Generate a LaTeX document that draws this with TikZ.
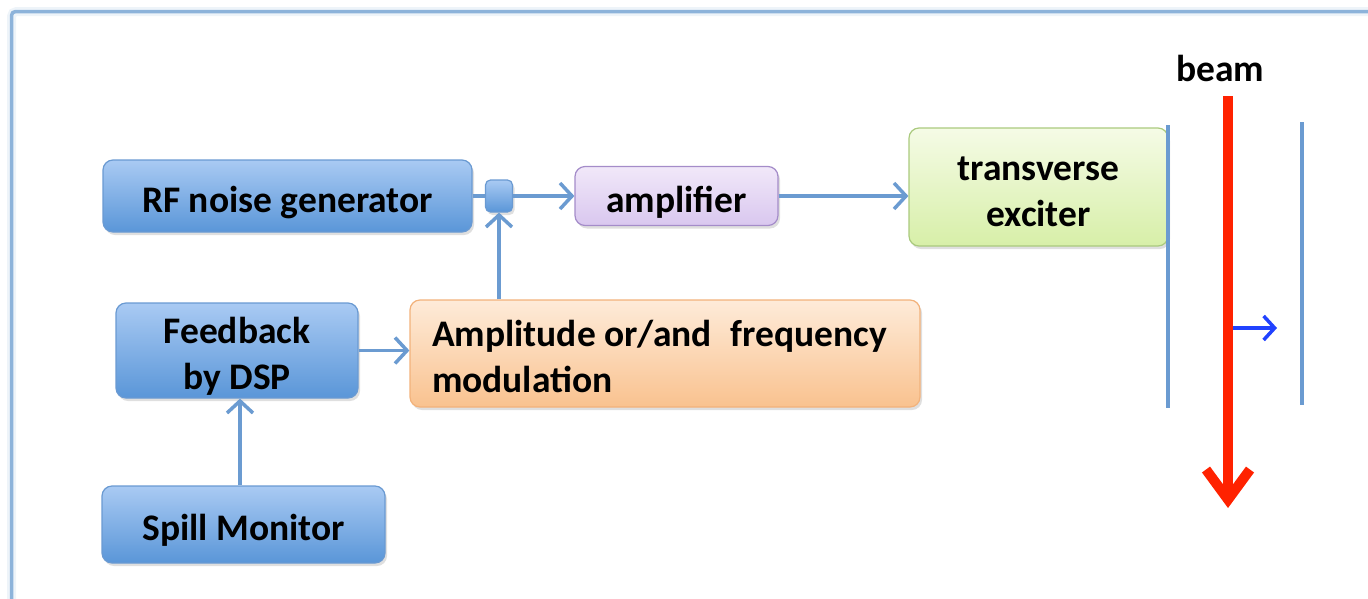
\documentclass[tikz,border=0pt]{standalone}
\usepackage{fontspec}
\setmainfont{Carlito}
\usetikzlibrary{arrows.meta,shadows}
\definecolor{framecol}{HTML}{8DB3DA}
\definecolor{conncol}{HTML}{6B9BD1}
\definecolor{bluetop}{HTML}{A9CAF3}
\definecolor{bluebot}{HTML}{5A96D8}
\definecolor{blueedge}{HTML}{6A9AD2}
\definecolor{purtop}{HTML}{F1E8F9}
\definecolor{purbot}{HTML}{D9C7EF}
\definecolor{puredge}{HTML}{A48CC9}
\definecolor{grntop}{HTML}{F5FBE6}
\definecolor{grnbot}{HTML}{D7EFA8}
\definecolor{grnedge}{HTML}{AACA7E}
\definecolor{orgtop}{HTML}{FEEBD9}
\definecolor{orgbot}{HTML}{F9C28F}
\definecolor{orgedge}{HTML}{F2B27B}
\definecolor{beamred}{HTML}{FF2200}
\definecolor{movblue}{HTML}{2142FF}
\newcommand{\boxtext}[2]{\raisebox{-7pt}[\height][\depth]{\begin{tabular}{@{}#1@{}}#2\end{tabular}}}
\tikzset{
  boxbase/.style={rounded corners=10pt, line width=1.2pt, font=\bfseries\fontsize{37.5}{46}\selectfont,
    inner sep=0pt,
    drop shadow={opacity=0.25, shadow xshift=2pt, shadow yshift=-3pt}},
  bluebox/.style={boxbase, draw=blueedge, top color=bluetop, bottom color=bluebot},
  purbox/.style={boxbase, draw=puredge, top color=purtop, bottom color=purbot},
  grnbox/.style={boxbase, draw=grnedge, top color=grntop, bottom color=grnbot},
  orgbox/.style={boxbase, draw=orgedge, top color=orgtop, bottom color=orgbot},
  conn/.style={draw=conncol, line width=3.5pt, -{Straight Barb[length=12pt,width=26pt]}},
  connplain/.style={draw=conncol, line width=3.5pt},
  plate/.style={draw=conncol, line width=3.5pt},
}
\begin{document}
\begin{tikzpicture}[x=1pt,y=-1pt]
\useasboundingbox (0,0) rectangle (1368,598);
% frame
\draw[framecol, line width=9pt, opacity=0.15, rounded corners=5pt] (11.5,605) -- (11.5,11.5) -- (1375,11.5);
\draw[framecol, line width=3.5pt, rounded corners=4pt] (11.5,605) -- (11.5,11.5) -- (1375,11.5);
% nodes
\node[bluebox, minimum width=369pt, minimum height=72pt] (rf) at (287.5,196) {\boxtext{c}{RF noise generator}};
\node[bluebox, rounded corners=5pt, minimum width=27pt, minimum height=32pt] (junc) at (499,196) {};
\node[purbox, minimum width=203pt, minimum height=59pt] (amp) at (676.5,196) {\boxtext{c}{amplifier}};
\node[grnbox, minimum width=259pt, minimum height=118pt] (exc) at (1038.5,187) {\boxtext{c}{transverse\\exciter}};
\node[bluebox, minimum width=242pt, minimum height=95pt] (fb) at (237,350.5) {\boxtext{c}{Feedback\\by DSP}};
\node[orgbox, minimum width=510pt, minimum height=107pt] (mod) at (665,353.5) {\makebox[466pt][l]{\boxtext{l}{Amplitude or/and\hspace{0.5em}frequency\\modulation}}};
\node[bluebox, minimum width=283pt, minimum height=77pt] (spill) at (243.5,524.5) {\boxtext{c}{Spill Monitor}};
\node[font=\bfseries\fontsize{37.5}{44}\selectfont, inner sep=0pt] (beamlbl) at (1220,68) {beam};
% connectors
\draw[connplain] (rf.east) -- (junc.west);
\draw[conn] (junc.east) -- (amp.west);
\draw[conn] (amp.east) -- (amp.east -| exc.west);
\draw[conn] (fb.east) -- (mod.west |- fb.east);
\draw[conn] (junc.south |- mod.north) -- (junc.south);
\draw[conn] (spill.north -| 240,0) -- (fb.south -| 240,0);
% plates and beam
\coordinate (p1t) at (1168,125); \coordinate (p1b) at (1168,408);
\coordinate (p2t) at (1302,122); \coordinate (p2b) at (1302,405);
\draw[plate] (p1t) -- (p1b);
\draw[plate] (p2t) -- (p2b);
\coordinate (bt) at (1228,96); \coordinate (bb) at (1228,508);
\draw[beamred, line width=10pt, -{Straight Barb[length=30pt,width=44pt]}] (bt) -- (bb);
\coordinate (ms) at (1233,328); \coordinate (me) at (1277,328);
\draw[movblue, line width=3.5pt, -{Straight Barb[length=11pt,width=24pt]}] (ms) -- (me);
\end{tikzpicture}
\end{document}
